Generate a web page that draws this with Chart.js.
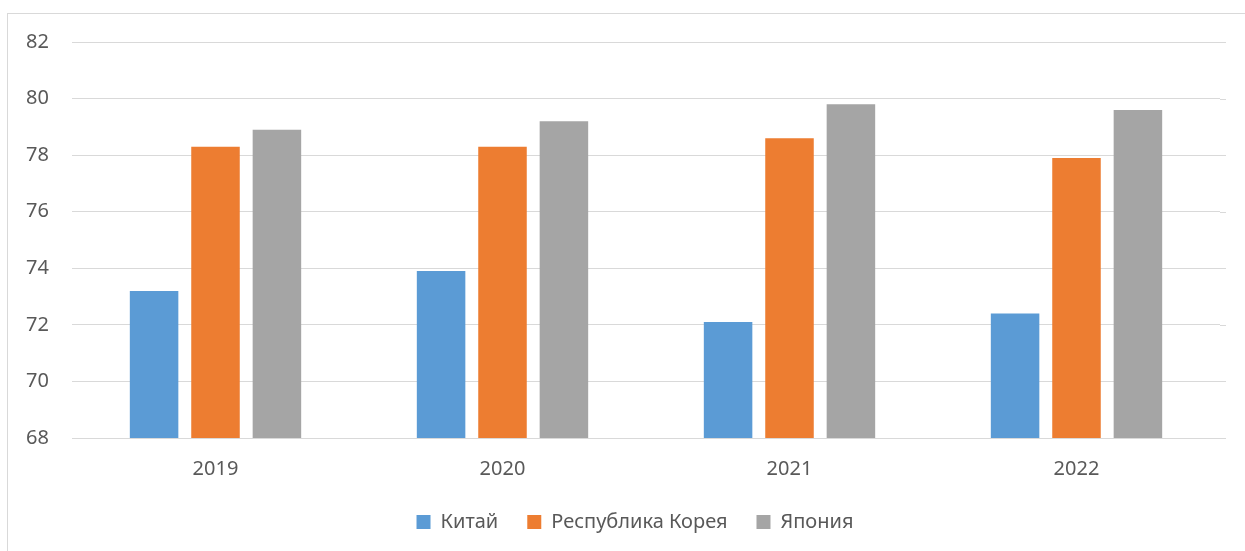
<!DOCTYPE html>
<html lang="ru">
<head>
    <meta charset="utf-8">
    <title>Chart</title>
    <script src="https://cdn.jsdelivr.net/npm/chart.js"></script>
    <style>
        body { margin: 0; background: #fff; }
        #wrap { position: relative; width: 1245px; height: 551px; }
        #frame { position: absolute; left: 7px; top: 13px; right: -2px; bottom: -2px; border: 1px solid #d9d9d9; }
        canvas { position: absolute; left: 0; top: 0; }
    </style>
</head>
<body>
    <div id="wrap">
        <div id="frame"></div>
        <canvas id="myBarChart" width="1245" height="551"></canvas>
    </div>

    <script>
        const years = ["2019", "2020", "2021", "2022"];
        const china = [73.2, 73.9, 72.1, 72.4];
        const korea = [78.3, 78.3, 78.6, 77.9];
        const japan = [78.9, 79.2, 79.8, 79.6];

        const textColor = "#595959";
        const fontFamily = "'Noto Sans', sans-serif";

        // gridlines run a little past the plot area, like in Excel
        const extendGrid = {
            id: 'extendGrid',
            beforeDatasetsDraw(chart) {
                const c = chart.ctx, area = chart.chartArea, y = chart.scales.y;
                c.save();
                c.strokeStyle = "#d9d9d9";
                c.lineWidth = 1;
                y.ticks.forEach(t => {
                    const py = Math.round(y.getPixelForValue(t.value)) + 0.5;
                    c.beginPath();
                    c.moveTo(area.right, py);
                    c.lineTo(area.right + 6, py);
                    c.stroke();
                });
                c.restore();
            }
        };

        const ctx = document.getElementById("myBarChart").getContext("2d");
        let myBarChart = new Chart(ctx, {
            type: 'bar',
            data: {
                labels: years,
                datasets: [
                    { label: "Китай", backgroundColor: "#5b9bd5", data: china },
                    { label: "Республика Корея", backgroundColor: "#ed7d31", data: korea },
                    { label: "Япония", backgroundColor: "#a5a5a5", data: japan }
                ]
            },
            plugins: [extendGrid],
            options: {
                responsive: false,
                animation: false,
                categoryPercentage: 0.642,
                barPercentage: 0.79,
                layout: {
                    padding: { top: 42, right: -25, left: 0, bottom: 9 }
                },
                scales: {
                    x: {
                        afterFit: function (scale) { scale.height -= 9; },
                        grid: { display: false },
                        border: { display: false },
                        ticks: { color: textColor, padding: 11, font: { family: fontFamily, size: 20 } }
                    },
                    y: {
                        min: 68,
                        max: 82,
                        afterFit: function (scale) { scale.width = 72; },
                        grid: { color: "#d9d9d9", lineWidth: 1, drawTicks: false },
                        border: { display: false },
                        ticks: { stepSize: 2, color: textColor, padding: 23, font: { family: fontFamily, size: 20 } }
                    },
                    // empty right-hand spacer so the legend centres like the original
                    yRight: {
                        position: 'right',
                        min: 68,
                        max: 82,
                        afterFit: function (scale) { scale.width = 50; },
                        grid: { display: false },
                        border: { display: false },
                        ticks: { display: false }
                    }
                },
                plugins: {
                    legend: {
                        position: 'bottom',
                        labels: {
                            boxWidth: 14,
                            boxHeight: 14,
                            padding: 29,
                            color: textColor,
                            font: { family: fontFamily, size: 20 }
                        }
                    },
                    tooltip: { enabled: false }
                }
            }
        });
    </script>
</body>
</html>
